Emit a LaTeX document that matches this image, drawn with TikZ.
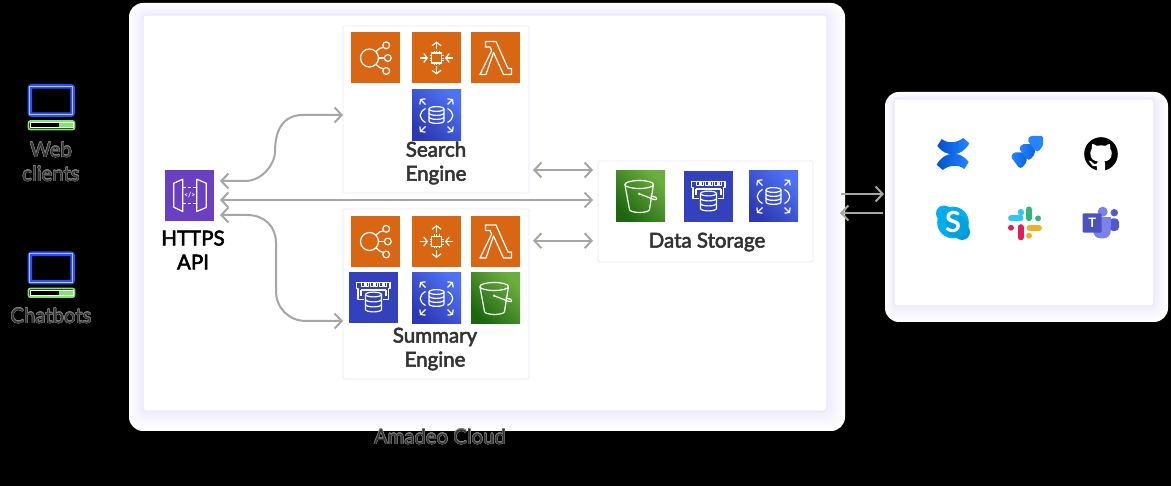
\documentclass[tikz,border=0pt]{standalone}
\usepackage{fontspec}
\setmainfont{Lato}
\newfontfamily\labfont{Lato}[FakeBold=2.8]
\usepackage{contour}
\usetikzlibrary{arrows.meta,positioning}

\definecolor{halolav}{HTML}{EFECFD}
\definecolor{boxline}{HTML}{EBE8FA}
\definecolor{linkgray}{HTML}{A6A6A6}
\definecolor{labgray}{HTML}{333333}
\definecolor{awsorange}{HTML}{D86613}
\definecolor{awspurple}{HTML}{6A3FC2}
\definecolor{bluedark}{HTML}{2E38B2}
\definecolor{bluelight}{HTML}{4D72F3}
\definecolor{greendark}{HTML}{1B660F}
\definecolor{greenlight}{HTML}{6CAE3E}
\definecolor{screenblue}{HTML}{2A50FF}
\definecolor{barGreen}{HTML}{7FE66E}
\definecolor{atlasdark}{HTML}{0052CC}
\definecolor{atlaslight}{HTML}{2684FF}
\definecolor{skypeblue}{HTML}{00AEEF}
\definecolor{skypedark}{HTML}{0098D4}
\definecolor{teamsdark}{HTML}{4B53BC}
\definecolor{teamsmid}{HTML}{5059C9}
\definecolor{teamslight}{HTML}{7B83EB}
\definecolor{slackblue}{HTML}{36C5F0}
\definecolor{slackgreen}{HTML}{2EB67D}
\definecolor{slackpink}{HTML}{E01E5A}
\definecolor{slackyellow}{HTML}{ECB22E}

\newcommand\softhalo[8]{
	\foreach \k [evaluate=\k as \pct using \k*100/9,
		evaluate=\k as \rr using 14-\k] in {0,...,9}{
		\fill[halolav!\pct!white,rounded corners=\rr pt]
			({#1-#5*(1-\k/9)},{#2-#6*(1-\k/9)}) rectangle ({#3+#7*(1-\k/9)},{#4+#8*(1-\k/9)});
	}
}

\newcommand\dbstack[4]{
	\begin{scope}[shift={(#1,#2)}]
		\draw[glyph] (0,-#3) ellipse (#4 and 2.4);
		\draw[glyph] (-#4,-#3) -- (-#4,#3) arc (180:0:#4 and 2.4) -- (#4,-#3);
		\draw[glyph] (-#4,{-#3/3}) arc (180:0:#4 and 2.4);
		\draw[glyph] (-#4,{#3/3}) arc (180:0:#4 and 2.4);
	\end{scope}
}

\newcommand\bucketglyph{
	\draw[glyph] (-1.3,-12) ellipse (14.3 and 4);
	\draw[glyph] (-15.6,-12) -- (-11,13) arc (180:0:10 and 3) -- (13,-12);
	\fill[white] (-1.3,-2.7) circle (1.3);
	\draw[glyph] (-1.3,-2.7) -- (13.5,3) .. controls (17,4) and (17,0.5) .. (13.5,0.3) -- (10,-0.5);
}

\tikzset{
	panel/.style={draw=boxline,fill=white,line width=1.2,rounded corners=3,inner sep=0,outer sep=0},
	innerbox/.style={draw=boxline,fill=white,line width=.8,rounded corners=1.5,inner sep=0,outer sep=0},
	tile/.style={inner sep=0,outer sep=0,minimum width=49,minimum height=51},
	glyph/.style={draw=white,line width=1.2,line join=round,fill=none},
	link/.style={draw=linkgray,line width=2,>={Straight Barb[length=7pt,width=15pt]}},
	lab/.style={font=\labfont\fontsize{20.5}{24}\selectfont,align=center,text=labgray,inner sep=0},
	dimlab/.style={font=\fontsize{20.3}{24}\selectfont,align=center,text=labgray,inner sep=0},
	pics/elb/.style={code={
		\node[tile,fill=awsorange] (-t) {};
		\draw[glyph] (-6,0) circle (9);
		\draw[glyph] (10.7,-12.7) circle (3.4);
		\draw[glyph] (12.3,0) circle (3.4);
		\draw[glyph] (10.7,13) circle (3.4);
		\draw[glyph] (3,0) -- (8.9,0);
		\draw[glyph] (0.5,-6.3) -- (4,-9.5) -- (8,-10.7);
		\draw[glyph] (0.5,6.3) -- (4,9.5) -- (8,11);
	}},
	pics/chip/.style={code={
		\node[tile,fill=awsorange] (-t) {};
		\draw[glyph] (-5,-5) rectangle (5,5);
		\foreach \d in {-2.5,0,2.5}{
			\draw[white,line width=.7] (\d,-7) -- (\d,-5);
			\draw[white,line width=.7] (\d,7) -- (\d,5);
			\draw[white,line width=.7] (-7,\d) -- (-5,\d);
			\draw[white,line width=.7] (7,\d) -- (5,\d);
		}
		\draw[glyph,-{Straight Barb[length=3.5pt,width=9pt]}] (0,-8.5) -- (0,-16.5);
		\draw[glyph,-{Straight Barb[length=3.5pt,width=9pt]}] (0,8.5) -- (0,16.5);
		\draw[glyph,-{Straight Barb[length=3.5pt,width=9pt]}] (-16.5,0) -- (-8.5,0);
		\draw[glyph,-{Straight Barb[length=3.5pt,width=9pt]}] (16.5,0) -- (8.5,0);
	}},
	pics/lambda/.style={code={
		\node[tile,fill=awsorange] (-t) {};
		\draw[glyph] (-10,-16.5) -- (0.5,-16.5) -- (12.5,10.5) -- (16,10.5) -- (16,16.5)
			-- (8,16.5) -- (-2,-5.5) -- (-9.5,16.5) -- (-15.5,16.5) -- (-3.8,-7.5)
			-- (-5.5,-11) -- (-10,-11) -- cycle;
	}},
	pics/rds/.style={code={
		\node[tile,top color=bluelight,bottom color=bluedark,shading angle=-45] (-t) {};
		\dbstack{0}{-0.5}{6}{7.5}
		\draw[glyph] (-11,-7) .. controls (-18,-3) and (-18,3) .. (-11,7);
		\draw[glyph] (11,-7) .. controls (18,-3) and (18,3) .. (11,7);
		\foreach \sx/\sy in {-1/-1,1/-1,-1/1,1/1}{
			\draw[glyph,-{Straight Barb[length=3pt,width=8pt]}]
				({\sx*11},{\sy*11}) -- ({\sx*16.5},{\sy*16.5});
		}
	}},
	pics/memdb/.style={code={
		\node[tile,fill=bluedark!85!bluelight] (-t) {};
		\dbstack{0}{4.5}{7.5}{8}
		\draw[glyph] (-17,-15) -- (16.5,-15) -- (16.5,-9) -- (15,-9) -- (15,2) -- (9.5,2);
		\draw[glyph] (-17,-15) -- (-17,-9) -- (-15.5,-9) -- (-15.5,2) -- (-9.5,2);
		\foreach \d in {-12,-7.5,-3,1.5,6,10.5}{
			\draw[glyph] (\d,-15) -- (\d,-11) -- ({\d+2.8},-11) -- ({\d+2.8},-15);
		}
		\draw[glyph] (-12.5,-7.5) -- (12.5,-7.5);
		\draw[glyph] (-12.5,-7.5) -- (-12.5,-1);
		\draw[glyph] (12.5,-7.5) -- (12.5,-1);
	}},
	pics/bucket/.style={code={
		\node[tile,top color=greenlight,bottom color=greendark,shading angle=-45] (-t) {};
		\bucketglyph
	}},
	pics/gateway/.style={code={
		\node[tile,fill=awspurple] (-t) {};
		\draw[glyph] (-15.7,-12.3) -- (-6.7,-16.3) -- (-6.7,16) -- (-15.7,11.7) -- cycle;
		\draw[glyph] (7.3,-16.3) -- (16.7,-12.3) -- (16.7,12) -- (7.3,16) -- cycle;
		\draw[glyph,densely dashed] (-6.7,-8) -- (7.3,-8);
		\draw[glyph,densely dashed] (-6.7,7.7) -- (7.3,7.7);
		\node[text=white,font=\bfseries\fontsize{7}{7}\selectfont,inner sep=0] (-code) at (0.3,0) {</>};
	}},
	pics/monitor/.style={code={
		\draw[screenblue,line width=4.6,rounded corners=2] (-21.7,-17.7) rectangle (21.2,10.7);
		\draw[white!65!screenblue,line width=.9] (-21.7,-17.7) rectangle (21.2,10.7);
		\draw[barGreen,line width=1.7,rounded corners=2] (-23,17) rectangle (23,25.6);
		\draw[white,line width=.7] (-21.3,18.8) rectangle (21.5,23.8);
		\fill[barGreen] (7,19.3) rectangle (21,23.3);
	}},
	pics/confluence/.style={code={
		\foreach \turn in {0,180}{
			\begin{scope}[rotate=\turn]
				\shade[left color=atlasdark,right color=atlaslight,line join=round]
					(-15.7,-8) -- (-11.3,-15) .. controls (-5,-10) and (4,-11) .. (10.3,-16)
					-- (16.3,-10.7) .. controls (9,3) and (-7,4) .. (-15.7,-8) -- cycle;
			\end{scope}
		}
	}},
	pics/jira/.style={code={
		\foreach \dx/\mix in {-8.3/35,0/35,8.3/100}{
			\begin{scope}[shift={(\dx,{-\dx})}]
				\shade[left color=atlaslight,right color=atlaslight!\mix!atlasdark,rounded corners=1.5]
					(7.8,-7.8) -- (-5,-7.8) -- (-7.8,-3.5) -- (0.5,7.8) -- (3,7.8) -- (7.8,2) -- cycle;
			\end{scope}
		}
	}},
	pics/github/.style={code={
		\begin{scope}[scale=2.1,shift={(-8,-8)}]
			\fill[black] (8,8) circle (8);
			\fill[white] (6.02,16.5) -- (6.01,13.72) .. controls (4,14.09) and (3.48,13.23) .. (3.32,12.78)
				.. controls (3.23,12.55) and (2.84,11.84) .. (2.5,11.65)
				.. controls (2.22,11.5) and (1.82,11.13) .. (2.49,11.12)
				.. controls (3.12,11.11) and (3.57,11.7) .. (3.72,11.94)
				.. controls (4.44,13.15) and (5.59,12.81) .. (6.05,12.6)
				.. controls (6.12,12.08) and (6.33,11.73) .. (6.56,11.53)
				.. controls (4.78,11.33) and (2.92,10.64) .. (2.92,7.58)
				.. controls (2.92,6.71) and (3.23,5.99) .. (3.74,5.43)
				.. controls (3.66,5.23) and (3.38,4.41) .. (3.82,3.31)
				.. controls (3.82,3.31) and (4.49,3.1) .. (6.02,4.13)
				.. controls (6.66,3.95) and (7.34,3.86) .. (8.02,3.86)
				.. controls (8.7,3.86) and (9.38,3.95) .. (10.02,4.13)
				.. controls (11.55,3.09) and (12.22,3.31) .. (12.22,3.31)
				.. controls (12.66,4.41) and (12.38,5.23) .. (12.3,5.43)
				.. controls (12.81,5.99) and (13.12,6.7) .. (13.12,7.58)
				.. controls (13.12,10.65) and (11.25,11.33) .. (9.47,11.53)
				.. controls (9.76,11.78) and (10.01,12.26) .. (10.01,13.01)
				-- (10,16.5) -- cycle;
		\end{scope}
	}},
	pics/skype/.style={code={
		\fill[skypeblue] (-9,-9) circle (8);
		\fill[skypedark] (9,9.5) circle (8);
		\fill[skypeblue] (0,0) circle (15.8);
		\fill[skypedark!60!skypeblue] (4,4) circle (11.5);
		\node[text=white,font=\bfseries\fontsize{29}{29}\selectfont,inner sep=0] (-s) at (0,0) {S};
	}},
	pics/slack/.style={code={
		\foreach \col/\xa/\ya/\xb/\yb in {
			slackblue/-14/-4.7/-4.4/-4.7, slackblue/-4.3/-11.2/-4.3/-10,
			slackgreen/4/-13.6/4/-4.7, slackgreen/13.3/-4.7/13.3/-4.6,
			slackpink/-4.3/4.1/-4.3/14.4, slackpink/-14/4.7/-14/4.8,
			slackyellow/4.4/4.7/14/4.7, slackyellow/4/12.7/4/12.8}{
			\draw[\col,line width=5.8,line cap=round] (\xa,\ya) -- (\xb,\yb);
		}
	}},
	pics/teams/.style={code={
		\fill[teamsmid] (13.3,-10.3) circle (3.7);
		\fill[teamsmid,rounded corners=4] (8,-4.7) rectangle (18,8);
		\fill[teamslight,rounded corners=7] (-7.7,-5.7) rectangle (9.7,15.3);
		\fill[teamslight] (-7.7,-5.7) rectangle (9.7,4);
		\fill[teamslight] (1.7,-11.3) circle (5);
		\fill[teamsdark,rounded corners=1] (-18.3,-9.7) rectangle (0.7,9.7);
		\node[text=white,font=\bfseries\fontsize{13}{13}\selectfont,inner sep=0] (-tt) at (-8.8,0) {T};
	}},
}

\contourlength{0.35pt}
\newcommand\dimtext[1]{\contour{gray}{#1}}

\begin{document}
\begin{tikzpicture}[x=1pt,y=-1pt]

\useasboundingbox (0,0) rectangle (1171,486);
\fill[black] (0,0) rectangle (1171,486);

\softhalo{143}{15}{827}{411}{14}{12}{18}{20}
\softhalo{894}{99}{1154}{306}{9}{7}{14}{16}

\node[panel,minimum width=684,minimum height=396] (cloud) at (485,213) {};
\node[panel,minimum width=260,minimum height=207] (apps) at (1024,202.5) {};

\node[innerbox,minimum width=186,minimum height=167] (search) at (436,109.5) {};
\node[innerbox,minimum width=186,minimum height=170] (summary) at (436,294) {};
\node[innerbox,minimum width=215,minimum height=101] (store) at (705.5,211.5) {};

\foreach \eng/\ycen in {search/58,summary/241.5}{
	\pic (\eng elb) at (375.5,\ycen) {elb};
	\pic (\eng chip) at (436.5,\ycen) {chip};
	\pic (\eng fn) at (495.5,\ycen) {lambda};
}
\pic (searchdb) at (436.5,115.5) {rds};
\pic (summarymem) at (373.5,297.5) {memdb};
\pic (summarydb) at (436.5,298.5) {rds};
\pic (summarybkt) at (495.5,298.5) {bucket};
\pic (storebkt) at (640.5,196.5) {bucket};
\pic (storemem) at (708.5,196.5) {memdb};
\pic (storedb) at (773.5,196.5) {rds};
\pic (api) at (189.5,195.5) {gateway};

\node[lab] (searchlab) at (436,163) {Search\\Engine};
\node[lab] (summarylab) at (435,349) {Summary\\Engine};
\node[lab] (storelab) at (707,242) {Data Storage};
\node[lab,text=black] (apilab) at (193,250) {HTTPS\\API};

\pic (webicon) at (51.5,104) {monitor};
\pic (boticon) at (51.5,271.5) {monitor};
\node[dimlab] (weblab) at (51,162) {\dimtext{Web}\\\dimtext{clients}};
\node[dimlab] (botlab) at (51,316) {\dimtext{Chatbots}};
\node[dimlab] (cloudlab) at (440,437) {\dimtext{Amadeo Cloud}};

\pic (confluence) at (953,154) {confluence};
\pic (jira) at (1027,152) {jira};
\pic (github) at (1101,154) {github};
\pic (skype) at (953,222.5) {skype};
\pic (slack) at (1025,223) {slack};
\pic (teams) at (1101,223) {teams};

\draw[link,<->] ([xshift=6pt,yshift=14.5pt]api-t.east) -- ++(25,0)
	.. controls +(18,0) and +(0,11) .. ++(30,-29)
	.. controls +(0,-22) and +(-20,0) .. ++(28,-37) -- ([yshift=-5.5pt]search.west);
\draw[link,<->] ([xshift=6pt,yshift=-4.5pt]api-t.east) -- ([xshift=-5pt,yshift=11.5pt]store.west);
\draw[link,<->] ([xshift=6pt,yshift=-19.5pt]api-t.east) -- ++(27,0)
	.. controls +(18,0) and +(0,-16) .. ++(29,28) -- ++(0,48)
	.. controls +(0,17) and +(-17,0) .. ++(30,30) -- ([yshift=-27pt]summary.west);
\draw[link,<->] ([xshift=4pt,yshift=-60.5pt]search.east) -- ([xshift=-5pt,yshift=41.5pt]store.west);
\draw[link,<->] ([xshift=4pt,yshift=53.3pt]summary.east) -- ([xshift=-5pt,yshift=-29.2pt]store.west);
\draw[link,->] ([xshift=14pt,yshift=19pt]cloud.east) -- ([xshift=-10pt,yshift=8.5pt]apps.west);
\draw[link,->] ([xshift=-11pt,yshift=-10.5pt]apps.west) -- ([xshift=13pt]cloud.east);

\end{tikzpicture}
\end{document}
